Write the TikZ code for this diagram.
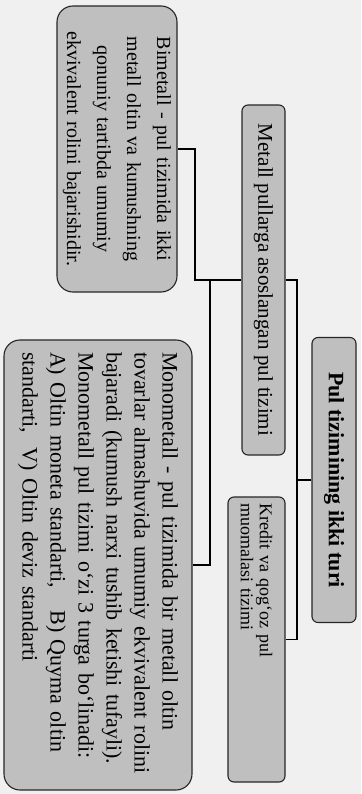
\documentclass[tikz,border=0pt]{standalone}
\usepackage{fontspec}
\setmainfont{Liberation Serif}
\usetikzlibrary{positioning, calc}

% one justified line of a box
\newcommand{\jline}[1]{\makebox[\linewidth][s]{#1}}

\begin{document}
\begin{tikzpicture}[
    x=1pt, y=-1pt,
    box/.style={draw=black!85, line width=1.1pt, fill=black!25, rotate=-90,
                rounded corners=6pt, inner sep=4pt, align=center,
                font=\fontsize{21}{24}\selectfont},
    bigbox/.style={box, rounded corners=16pt},
    link/.style={line width=1.8pt, color=black},
]

% page
\fill[black!6] (0,0) rectangle (361,794);
\useasboundingbox (0,0) rectangle (361,794);

% top level
\node[box, font=\bfseries\fontsize{22}{24}\selectfont,
      minimum width=285pt, minimum height=44pt] (root) at (334,480)
    {Pul tizimining ikki turi};

% second level
\node[box, minimum width=350pt, minimum height=43pt] (met) at (263.5,280)
    {Metall pullarga asoslangan pul tizimi};

\node[box, align=left, text width=272pt, font=\fontsize{18}{19}\selectfont,
      minimum width=285pt, minimum height=57pt] (kre) at (256.5,639.5)
    {Kredit va qog‘oz pul\\muomalasi tizimi};

% third level
\node[bigbox, text width=276pt, font=\fontsize{20}{30}\selectfont,
      minimum width=286pt, minimum height=120pt] (bim) at (117,149)
    {Bimetall - pul tizimida ikki\\metall oltin va kumushning\\qonuniy tartibda umumiy\\ekvivalent rolini bajarishidir.};

\node[bigbox, align=left, text width=426pt, font=\fontsize{22}{28}\selectfont,
      minimum width=450pt, minimum height=188pt] (mono) at (98,565)
    {\jline{Monometall - pul tizimida bir metall oltin}\\
     \jline{tovarlar almashuvida umumiy ekvivalent rolini}\\
     \jline{bajaradi (kumush narxi tushib ketishi tufayli).}\\
     \jline{Monometall pul tizimi o‘zi 3 turga bo‘linadi:}\\
     \jline{A) Oltin moneta standarti,\quad B) Quyma oltin}\\
     standarti,\ \ V) Oltin deviz standarti};

% joints
\coordinate (jL) at (195,280);
\coordinate (jM) at (210,280);
\coordinate (jR) at (297,480);

% lines
\draw[link] (root.south) -- (jR);
\draw[link] (met.north) -| (jR) |- (kre.north);
\draw[link] (bim.north) -| (jL) -- (met.south);
\draw[link] (jM) |- (mono.north);

\end{tikzpicture}
\end{document}
